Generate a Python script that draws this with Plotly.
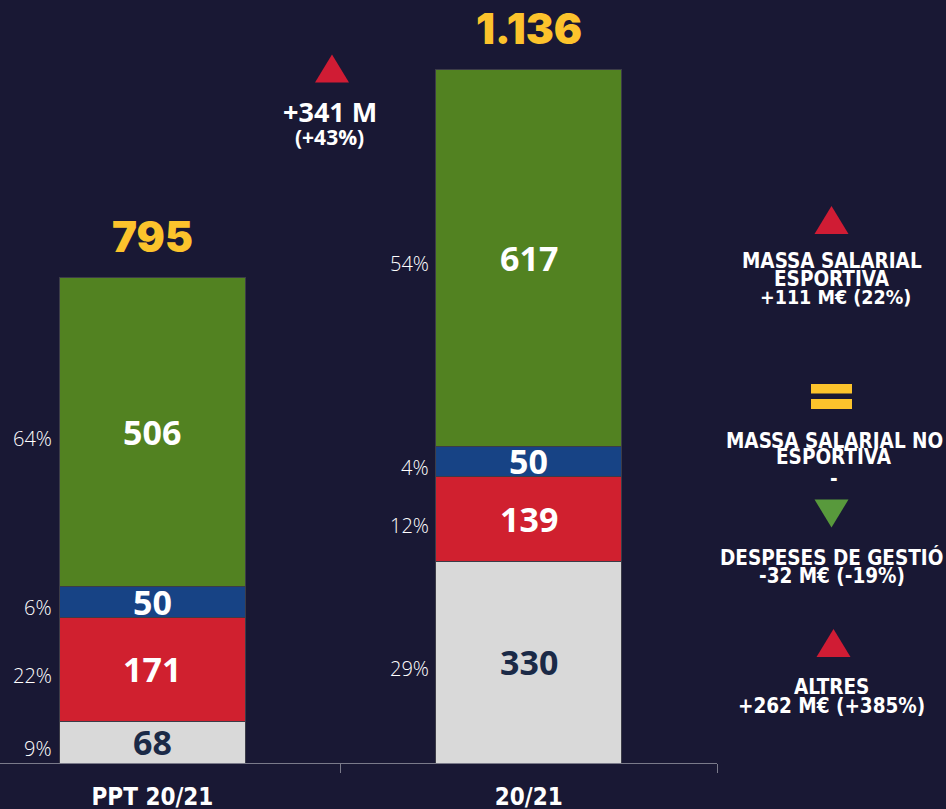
import plotly.graph_objects as go

categories = ["PPT 20/21", "20/21"]
series_names = ["Altres", "Despeses de gestió", "Massa salarial no esportiva", "Massa salarial esportiva"]
altres = [68, 330]
despeses = [171, 139]
massa_no_esportiva = [50, 50]
massa_esportiva = [506, 617]
pct_altres = ["9%", "29%"]
pct_despeses = ["22%", "12%"]
pct_no_esportiva = ["6%", "4%"]
pct_esportiva = ["64%", "54%"]
total_labels = ["795", "1.136"]

series = [altres, despeses, massa_no_esportiva, massa_esportiva]
pcts = [pct_altres, pct_despeses, pct_no_esportiva, pct_esportiva]
colors = ["#d9d9d9", "#d0202f", "#174385", "#528221"]
text_colors = ["#1b2a47", "#ffffff", "#ffffff", "#ffffff"]
BG = "#191834"
BAR_W = 0.494

# plot-area pixel geometry helpers (for side decorations)
PW, PH = 717, 763
def px(x):
    return x / PW
def py(y):
    return (PH - y) / PH

fig = go.Figure()
for name, vals, col in zip(series_names, series, colors):
    fig.add_trace(go.Bar(x=categories, y=vals, name=name, width=BAR_W,
                         marker=dict(color=col, line=dict(color="#3c3c48", width=1)),
                         hoverinfo="skip"))

annotations = []
for i in range(len(categories)):
    base = 0
    for vals, pc, tc in zip(series, pcts, text_colors):
        mid = base + vals[i] / 2
        annotations.append(dict(x=i, y=mid, xref="x", yref="y", text=str(vals[i]), showarrow=False,
                                font=dict(family="Noto Sans", size=34, color=tc, weight="bold"),
                                yanchor="middle", xanchor="center"))
        annotations.append(dict(x=i - BAR_W / 2, y=mid, xref="x", yref="y", text=pc[i], showarrow=False,
                                font=dict(family="Open Sans", size=20, color="#ffffff", weight=300),
                                xanchor="right", yanchor="middle", xshift=-5, yshift=-6))
        base += vals[i]
    annotations.append(dict(x=i, y=base, xref="x", yref="y", text=total_labels[i], showarrow=False,
                            font=dict(family="Inter", size=42, color="#fcc32c", weight=900),
                            xanchor="center", yanchor="middle", yshift=41))

def side_text(x, y, text, size=20.5, family="DejaVu Sans Condensed"):
    annotations.append(dict(x=px(x), y=py(y + 2.5), xref="paper", yref="paper", text=text, showarrow=False,
                            font=dict(family=family, size=size, color="#ffffff", weight="bold"),
                            xanchor="center", yanchor="middle"))

side_text(329.5, 109, "+341 M", size=27, family="Open Sans")
side_text(329.5, 134, "(+43%)", size=21, family="Open Sans")
side_text(832, 258.5, "MASSA SALARIAL")
side_text(832, 276, "ESPORTIVA")
side_text(835, 295, "+111 M€ (22%)", size=19.5)
side_text(834, 438, "MASSA SALARIAL NO")
side_text(834, 454, "ESPORTIVA")
side_text(834, 476, "-")
side_text(832, 555, "DESPESES DE GESTIÓ")
side_text(832, 573, "-32 M€ (-19%)")
side_text(832, 684, "ALTRES")
side_text(832, 703, "+262 M€ (+385%)")

shapes = []
def tri(x, y, color, up=True):
    path = "M -17,-14 L 17,-14 L 0,14 Z" if up else "M -17,14 L 17,14 L 0,-14 Z"
    shapes.append(dict(type="path", xref="paper", yref="paper", xsizemode="pixel", ysizemode="pixel",
                       xanchor=px(x), yanchor=py(y), path=path, fillcolor=color, line=dict(width=0)))

tri(332, 68.5, "#d01c34")
tri(831.5, 220, "#d01c34")
tri(831.5, 513.5, "#58993c", up=False)
tri(833.5, 643, "#d01c34")
for top, bot in [(384, 393.5), (399, 409)]:
    shapes.append(dict(type="rect", xref="paper", yref="paper", xsizemode="pixel", ysizemode="pixel",
                       xanchor=px(831.5), yanchor=py((top + bot) / 2), x0=-20.5, x1=20.5,
                       y0=-(bot - top) / 2, y1=(bot - top) / 2, fillcolor="#fcc32c", line=dict(width=0)))

fig.update_layout(
    width=946, height=809, barmode="stack", showlegend=False,
    paper_bgcolor=BG, plot_bgcolor=BG,
    margin=dict(l=0, r=229, t=0, b=46),
    annotations=annotations, shapes=shapes,
    xaxis=dict(range=[-0.405, 1.5], showgrid=False, zeroline=False, showline=True, automargin=False,
               linecolor="#7a7a8a", linewidth=1, ticks="outside", tickson="boundaries",
               ticklen=9, tickcolor="#7a7a8a", ticklabelstandoff=12,
               tickfont=dict(family="DejaVu Sans Condensed", size=24, color="#ffffff", weight="bold"),
               fixedrange=True),
    yaxis=dict(range=[0, 1250], visible=False, showgrid=False, zeroline=False, fixedrange=True,
               automargin=False),
)

fig.write_html("out.html", config={"displayModeBar": False},
               post_script="document.body.style.margin='0';document.body.style.background='%s';" % BG)
